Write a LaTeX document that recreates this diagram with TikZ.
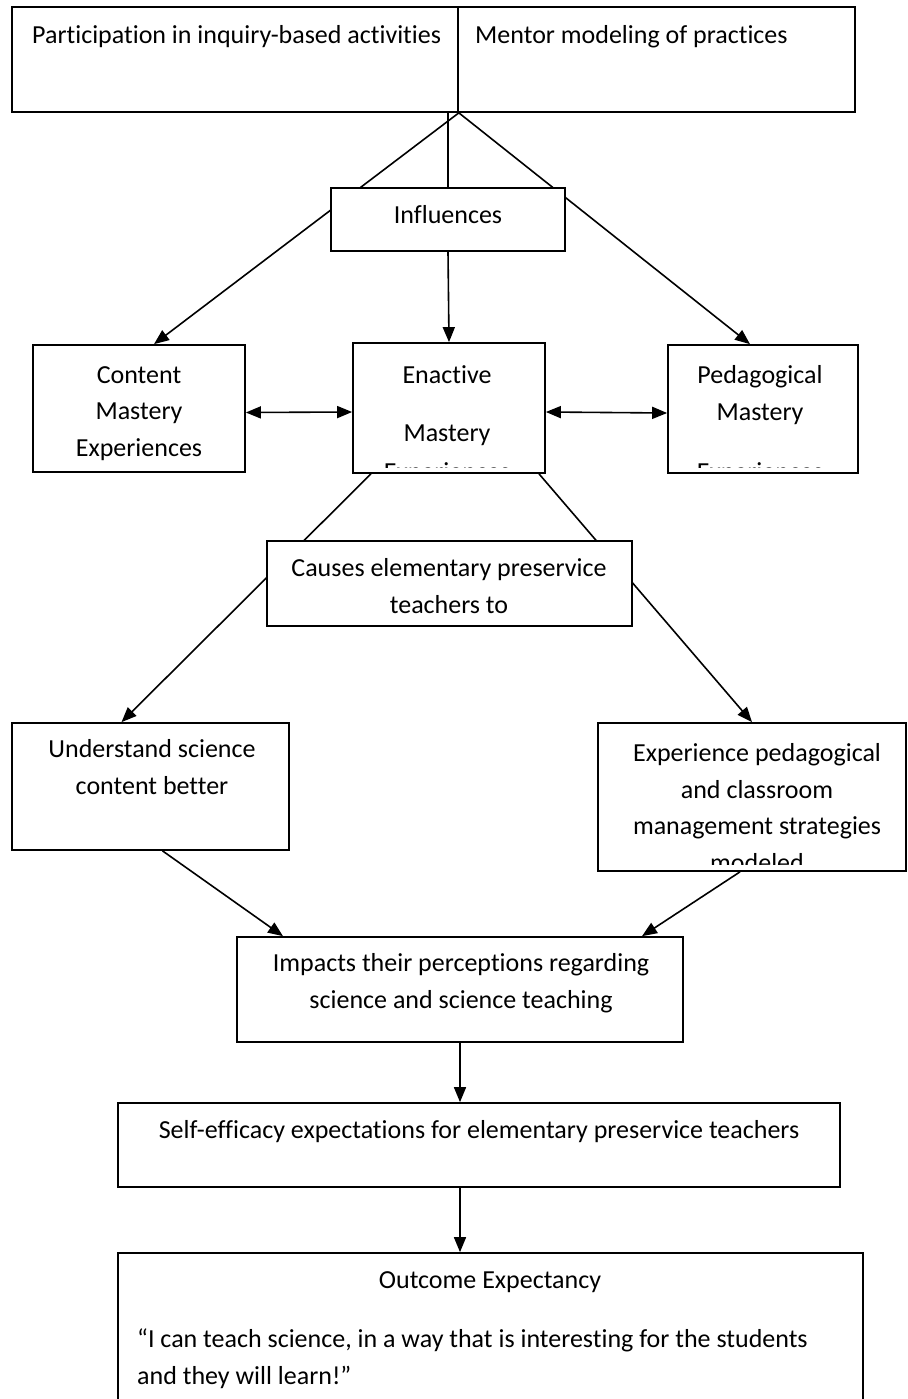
\documentclass[tikz,border=0pt]{standalone}
\usepackage{fontspec}
\setmainfont[Ligatures=NoCommon]{Carlito}
\usetikzlibrary{arrows.meta,backgrounds}

\tikzset{
  caja/.style={draw, line width=1.7pt, fill=white, inner sep=0pt},
  texto/.style={font=\fontsize{26}{36.5}\selectfont, inner sep=0pt, align=center, anchor=base},
  linea/.style={line width=1.6pt},
  flecha/.style={linea, -{Triangle[length=15pt,width=12pt]}},
  dflecha/.style={linea, {Triangle[length=15pt,width=12pt]}-{Triangle[length=15pt,width=12pt]}},
}

\begin{document}
\begin{tikzpicture}[x=1pt,y=-1pt]
  \useasboundingbox (0,0) rectangle (907,1399);

  % Cajas
  \node[caja, minimum width=446pt, minimum height=105pt] (part) at (235,59.5) {};
  \node[caja, minimum width=397pt, minimum height=105pt] (mentor) at (656.5,59.5) {};
  \node[caja, minimum width=234pt, minimum height=63pt] (infl) at (448,219.5) {};
  \node[caja, minimum width=212pt, minimum height=127pt] (cont) at (139,408.5) {};
  \node[caja, minimum width=192pt, minimum height=130pt] (enact) at (449,408) {};
  \node[caja, minimum width=190pt, minimum height=128pt] (peda) at (763,409) {};
  \node[caja, minimum width=365pt, minimum height=85pt] (causes) at (449.5,583.5) {};
  \node[caja, minimum width=277pt, minimum height=127pt] (und) at (150.5,786.5) {};
  \node[caja, minimum width=308pt, minimum height=148pt] (exper) at (752,797) {};
  \node[caja, minimum width=446pt, minimum height=105pt] (imp) at (460,989.5) {};
  \node[caja, minimum width=722pt, minimum height=84pt] (self) at (479,1145) {};
  \node[caja, minimum width=745pt, minimum height=157pt] (outc) at (490.5,1331.5) {};

  % Textos (base = ultima linea)
  \node[texto, anchor=base west] at (32,44) {Participation in inquiry-based activities};
  \node[texto, anchor=base west] at (475,44) {Mentor modeling of practices};
  \node[texto] at (448,223) {Influences};
  \node[texto] at (139,456) {Content\\Mastery\\Experiences};
  \node[texto] at (447,441) {Enactive\\[21.5pt]Mastery};
  \node[texto] at (760,420) {Pedagogical\\Mastery};
  \begin{scope}
    \clip (enact.north west) rectangle (545,467);
    \node[texto] at (447,480) {Experiences};
  \end{scope}
  \begin{scope}
    \clip (peda.north west) rectangle (858,467);
    \node[texto] at (760,480) {Experiences};
  \end{scope}
  \node[texto] at (449,613) {Causes elementary preservice\\teachers to};
  \node[texto] at (152,794) {Understand science\\content better};
  \begin{scope}
    \clip (exper.north west) rectangle (906,864);
    \node[texto] at (757,871) {Experience pedagogical\\and classroom\\management strategies\\modeled};
  \end{scope}
  \node[texto] at (461,1008) {Impacts their perceptions regarding\\science and science teaching};
  \node[texto] at (479,1138) {Self-efficacy expectations for elementary preservice teachers};
  \node[texto] at (490,1288) {Outcome Expectancy};
  \node[texto, align=left, anchor=base west] at (137,1384) {“I can teach science, in a way that is interesting for the students\\and they will learn!”};

  % Conectores
  \begin{scope}[on background layer]
    \draw[flecha] (part.south east) -- ([xshift=15pt]cont.north);
    \draw[flecha] (part.south east) -- ([xshift=-13pt]peda.north);
    \draw[linea] (infl.north |- part.south) -- (infl.north);
    \draw[flecha] ([xshift=-78pt]enact.south) -- ([xshift=-29pt]und.north);
    \draw[flecha] ([xshift=90pt]enact.south) -- (exper.north);
  \end{scope}
  \draw[flecha] (infl.south) -- (enact.north);
  \draw[dflecha] ([yshift=-4pt]cont.east) -- ([yshift=-4pt]enact.west);
  \draw[dflecha] ([yshift=-4pt]enact.east) -- ([yshift=-4pt]peda.west);
  \draw[flecha] ([xshift=12pt]und.south) -- ([xshift=-177pt]imp.north);
  \draw[flecha] ([xshift=-12pt]exper.south) -- ([xshift=182pt]imp.north);
  \draw[flecha] (imp.south) -- (imp.south |- self.north);
  \draw[flecha] (imp.south |- self.south) -- (imp.south |- outc.north);
\end{tikzpicture}
\end{document}
